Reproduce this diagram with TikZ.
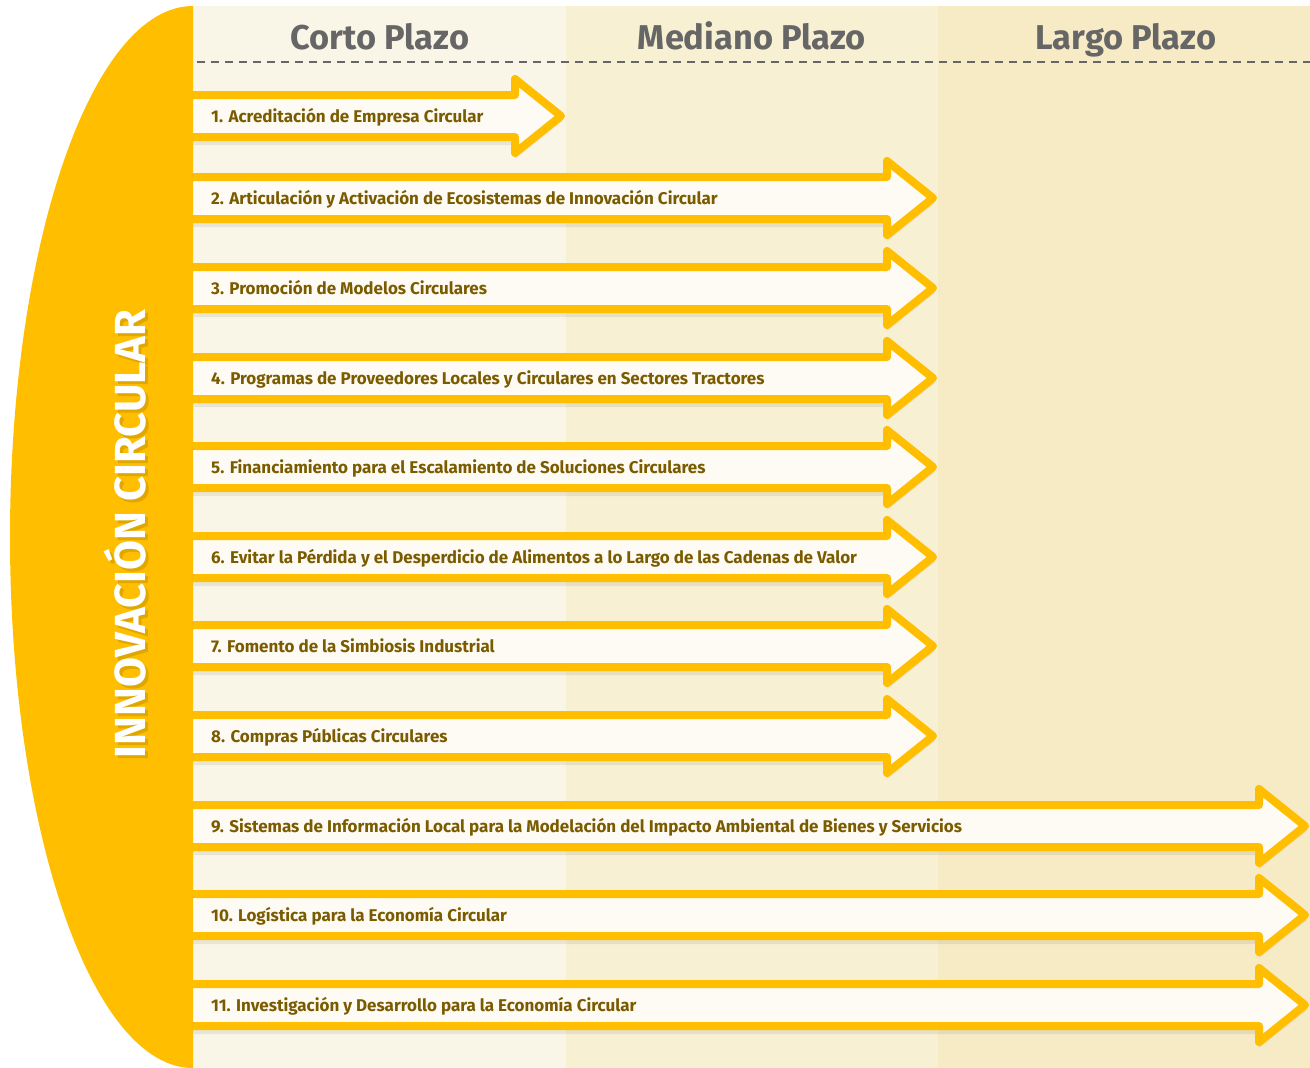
\documentclass[tikz,border=0pt]{standalone}
\usepackage{fontspec}
\setmainfont{Fira Sans}
\definecolor{cyel}{HTML}{FFBF00}
\definecolor{colA}{HTML}{FAF6E7}
\definecolor{colB}{HTML}{F8F0D3}
\definecolor{colC}{HTML}{F7EBC5}
\definecolor{afill}{HTML}{FDFBF4}
\definecolor{atext}{HTML}{7B5B00}
\definecolor{hgray}{HTML}{666666}
\tikzset{
  arrowshape/.style={draw=cyel, fill=afill, line width=8pt, line join=round},
  arrowshadow/.style={fill=black, opacity=0.07},
  arrowlabel/.style={anchor=base west, text=atext, font=\bfseries\fontsize{17}{20}\selectfont, inner sep=0pt},
  header/.style={anchor=base, text=hgray, font=\bfseries\fontsize{34.4}{38}\selectfont, inner sep=0pt},
  vlabel/.style={rotate=90, font=\bfseries\fontsize{43.5}{44}\selectfont},
}
\begin{document}
\begin{tikzpicture}[x=1pt,y=-1pt]
\useasboundingbox (0,0) rectangle (1310,1068);
% columns
\fill[colA] (193,6) rectangle (566,1068);
\fill[colB] (566,6) rectangle (938,1068);
\fill[colC] (938,6) rectangle (1310,1068);
% headers
\node[header] (h1) at (380,49) {Corto Plazo};
\node[header] (h2) at (752,49) {Mediano Plazo};
\node[header] (h3) at (1126,49) {Largo Plazo};
\coordinate (dl) at (197,62);
\coordinate (dr) at (1310,62);
\draw[hgray, line width=1.5pt, dash pattern=on 8pt off 6pt] (dl) -- (dr);
% arrows
\foreach \i/\y/\tip/\t in {
 1/116/561/{1. Acreditación de Empresa Circular},
 2/198/933/{2. Articulación y Activación de Ecosistemas de Innovación Circular},
 3/288/933/{3. Promoción de Modelos Circulares},
 4/378/933/{4. Programas de Proveedores Locales y Circulares en Sectores Tractores},
 5/467/933/{5. Financiamiento para el Escalamiento de Soluciones Circulares},
 6/557/933/{6. Evitar la Pérdida y el Desperdicio de Alimentos a lo Largo de las Cadenas de Valor},
 7/646/933/{7. Fomento de la Simbiosis Industrial},
 8/736/933/{8. Compras Públicas Circulares},
 9/826/1305/{9. Sistemas de Información Local para la Modelación del Impacto Ambiental de Bienes y Servicios},
 10/915/1305/{10. Logística para la Economía Circular},
 11/1005/1305/{11. Investigación y Desarrollo para la Economía Circular}}{
  \fill[arrowshadow] (180,\y-17) -- (\tip-46,\y-17) -- (\tip-46,\y-33) -- (\tip+2,\y+5) -- (\tip-46,\y+43) -- (\tip-46,\y+29) -- (180,\y+29) -- cycle;
  \draw[arrowshape] (180,\y-21) -- (\tip-46,\y-21) -- (\tip-46,\y-37) -- (\tip,\y) -- (\tip-46,\y+37) -- (\tip-46,\y+21) -- (180,\y+21) -- cycle;
  \node[arrowlabel] (a\i) at (211,\y+6) {\t};
}
% left half ellipse
\fill[cyel] (193,6) arc[start angle=-90, end angle=-270, x radius=183, y radius=531] -- cycle;
\node[vlabel, text=black, opacity=0.12] (vs) at (128,537) {INNOVACIÓN CIRCULAR};
\node[vlabel, text=white] (vt) at (125,534) {INNOVACIÓN CIRCULAR};
\end{tikzpicture}
\end{document}
